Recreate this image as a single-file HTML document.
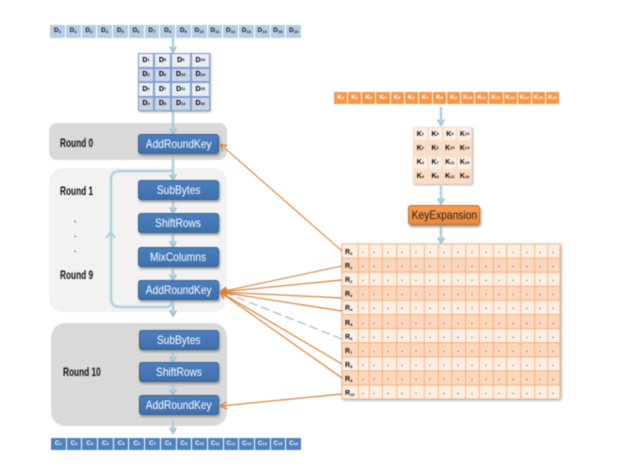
<!DOCTYPE html>
<html><head><meta charset="utf-8">
<style>
html,body{margin:0;padding:0;background:#fff}
body{width:624px;height:468px;position:relative;overflow:hidden;font-family:"Liberation Sans",sans-serif}
#w{position:absolute;left:0;top:0;width:624px;height:468px;filter:blur(.4px)}
svg{position:absolute;left:0;top:0}
.bar{position:absolute;display:flex;gap:1px;font-weight:bold;font-size:6.5px;line-height:1}
.bar span{flex:1;display:flex;align-items:center;justify-content:center}
sub{font-size:4px;line-height:0;font-weight:bold;vertical-align:-1.5px}
.d span{background:#b8cce4;color:#141c30}
.c span{background:#4f81bd;color:#fff}
.k span{background:#f79646;color:#fff}
.m{position:absolute;display:grid;font-weight:bold;font-size:7px;box-shadow:1px 1px 2px #aaa}
.m span{display:flex;align-items:center;justify-content:center;color:#000}
.bm{left:138px;top:53px;width:72px;height:58px;grid-template-columns:16px 17px 19.5px 19.5px;grid-template-rows:repeat(4,1fr);background:#7f9fd0}
.bm span{border:.5px solid #7f9fd0}
.bm span:nth-child(8n+1),.bm span:nth-child(8n+2),.bm span:nth-child(8n+3),.bm span:nth-child(8n+4){background:#e9edf4}
.bm span:nth-child(8n+5),.bm span:nth-child(8n+6),.bm span:nth-child(8n+7),.bm span:nth-child(8n+8){background:#ccd5e6}
.km{left:413px;top:127px;width:59px;height:57px;grid-template-columns:repeat(4,1fr);grid-template-rows:repeat(4,1fr)}
.km span{border:.5px solid #fbdcc4}
.km span:nth-child(8n+1),.km span:nth-child(8n+2),.km span:nth-child(8n+3),.km span:nth-child(8n+4){background:#fdf0e6}
.km span:nth-child(8n+5),.km span:nth-child(8n+6),.km span:nth-child(8n+7),.km span:nth-child(8n+8){background:#fbdcc4}
.b{position:absolute;box-sizing:border-box;height:19.5px;border-radius:3px;background:linear-gradient(#4a7fbf,#3f70ad);border:1px solid #38628f;color:#fff;font-size:12px;line-height:18px;text-align:center;box-shadow:1px 2px 2px #999;white-space:nowrap;display:flex;align-items:center;justify-content:center}
.b i{font-style:normal;display:block;transform:scaleX(.85)}
.o{background:linear-gradient(#f79a50,#ec8a3a);border-color:#c9702a;color:#222}
.l{position:absolute;font-size:11.5px;font-weight:bold;color:#111;line-height:1;white-space:nowrap;transform-origin:left center;transform:scaleX(.72)}
</style></head><body><div id="w">
<svg width="624" height="468" viewBox="0 0 624 468">
<defs>
<marker id="a" viewBox="0 0 10 10" refX="8" refY="5" markerWidth="8" markerHeight="8" orient="auto" markerUnits="userSpaceOnUse"><path d="M1 1L8 5L1 9" fill="none" stroke="#a3c6d4" stroke-width="2.500"/></marker>
</defs>
<rect x="49" y="123" width="178" height="37" rx="8" fill="#d9d9d9"/>
<rect x="49" y="168" width="178" height="144" rx="14" fill="#f2f2f2"/>
<rect x="51" y="323" width="176" height="103" rx="14" fill="#d9d9d9"/>
<path d="M172 171H120Q111 171 111 180V298Q111 307 120 307H166Q172 307 172 300" fill="none" stroke="#b2d3dc" stroke-width="2.600"/>
<path d="M106 238L110.500 232L115 238" fill="none" stroke="#a9cfdc" stroke-width="1.800"/>
<g fill="none" stroke="#aed0da" stroke-width="2.600" marker-end="url(#a)">
<path d="M173 38V52"/><path d="M173 111V134"/><path d="M173 153V180"/><path d="M173 199V213"/><path d="M173 233V247"/><path d="M173 266V280"/><path d="M173 299V316"/><path d="M173 349V362"/><path d="M173 382V395"/><path d="M173 420V433"/>
<path d="M441 107V125"/><path d="M441 186V204"/><path d="M441 225V243"/>
</g>
<rect x="342" y="244" width="218" height="155" fill="#fdeee2" style="filter:drop-shadow(1px 1px 1.500px #999)"/>
<g fill="#fbd7bc">
<rect x="342" y="258.100" width="218" height="14.100"/><rect x="342" y="286.300" width="218" height="14.100"/><rect x="342" y="314.500" width="218" height="14.100"/><rect x="342" y="342.700" width="218" height="14.100"/><rect x="342" y="370.900" width="218" height="14.100"/>
</g>
<path d="M342 244H560V399H342ZM342 258.100H560M342 272.200H560M342 286.300H560M342 300.400H560M342 314.500H560M342 328.600H560M342 342.700H560M342 356.800H560M342 370.900H560M342 385H560M358.300 244V399M369.300 244V399M382.300 244V399M396.700 244V399M410.300 244V399M424.300 244V399M438.300 244V399M451.700 244V399M465.700 244V399M479.300 244V399M493.300 244V399M506.700 244V399M520.700 244V399M534.700 244V399M547.700 244V399" fill="none" stroke="#f2a873" stroke-width=".8"/>
<g font-family="Liberation Sans" font-size="7" font-weight="bold" fill="#111">
<text x="345" y="254">R<tspan font-size="4" dy="1">0</tspan></text>
<text x="345" y="268">R<tspan font-size="4" dy="1">1</tspan></text>
<text x="345" y="282">R<tspan font-size="4" dy="1">2</tspan></text>
<text x="345" y="296">R<tspan font-size="4" dy="1">3</tspan></text>
<text x="345" y="310">R<tspan font-size="4" dy="1">4</tspan></text>
<text x="345" y="325">R<tspan font-size="4" dy="1">5</tspan></text>
<text x="345" y="339">R<tspan font-size="4" dy="1">6</tspan></text>
<text x="345" y="353">R<tspan font-size="4" dy="1">7</tspan></text>
<text x="345" y="367">R<tspan font-size="4" dy="1">8</tspan></text>
<text x="345" y="381">R<tspan font-size="4" dy="1">9</tspan></text>
<text x="345" y="395">R<tspan font-size="4" dy="1">10</tspan></text>
</g>
<g font-family="Liberation Sans" font-size="7" font-weight="bold" fill="#555">
<text y="253" x="362 373 387 401 415 429 443 457 471 485 498 512 526 539 552">...............</text>
<text y="267" x="362 373 387 401 415 429 443 457 471 485 498 512 526 539 552">...............</text>
<text y="281" x="362 373 387 401 415 429 443 457 471 485 498 512 526 539 552">...............</text>
<text y="295" x="362 373 387 401 415 429 443 457 471 485 498 512 526 539 552">...............</text>
<text y="309" x="362 373 387 401 415 429 443 457 471 485 498 512 526 539 552">...............</text>
<text y="324" x="362 373 387 401 415 429 443 457 471 485 498 512 526 539 552">...............</text>
<text y="338" x="362 373 387 401 415 429 443 457 471 485 498 512 526 539 552">...............</text>
<text y="352" x="362 373 387 401 415 429 443 457 471 485 498 512 526 539 552">...............</text>
<text y="366" x="362 373 387 401 415 429 443 457 471 485 498 512 526 539 552">...............</text>
<text y="380" x="362 373 387 401 415 429 443 457 471 485 498 512 526 539 552">...............</text>
<text y="394" x="362 373 387 401 415 429 443 457 471 485 498 512 526 539 552">...............</text>
</g>
<g font-family="Liberation Sans" font-size="8" font-weight="bold" fill="#333">
<text x="74" y="222">.</text><text x="74" y="237">.</text><text x="74" y="252">.</text>
</g>
<path d="M342 339L221 291" fill="none" stroke="#b0b4bc" stroke-width="1.200" stroke-dasharray="9 4"/>
</svg>
<div class="bar d" style="left:50px;top:25px;width:251px;height:13px"><span>D<sub>1</sub></span><span>D<sub>2</sub></span><span>D<sub>3</sub></span><span>D<sub>4</sub></span><span>D<sub>5</sub></span><span>D<sub>6</sub></span><span>D<sub>7</sub></span><span>D<sub>8</sub></span><span>D<sub>9</sub></span><span>D<sub>10</sub></span><span>D<sub>11</sub></span><span>D<sub>12</sub></span><span>D<sub>13</sub></span><span>D<sub>14</sub></span><span>D<sub>15</sub></span><span>D<sub>16</sub></span></div>
<div class="m bm"><span>D<sub>1</sub></span><span>D<sub>5</sub></span><span>D<sub>9</sub></span><span>D<sub>13</sub></span><span>D<sub>2</sub></span><span>D<sub>6</sub></span><span>D<sub>10</sub></span><span>D<sub>14</sub></span><span>D<sub>3</sub></span><span>D<sub>7</sub></span><span>D<sub>11</sub></span><span>D<sub>15</sub></span><span>D<sub>4</sub></span><span>D<sub>8</sub></span><span>D<sub>12</sub></span><span>D<sub>16</sub></span></div>
<div class="bar k" style="left:334px;top:92px;width:225px;height:12px"><span>K<sub>1</sub></span><span>K<sub>2</sub></span><span>K<sub>3</sub></span><span>K<sub>4</sub></span><span>K<sub>5</sub></span><span>K<sub>6</sub></span><span>K<sub>7</sub></span><span>K<sub>8</sub></span><span>K<sub>9</sub></span><span>K<sub>10</sub></span><span>K<sub>11</sub></span><span>K<sub>12</sub></span><span>K<sub>13</sub></span><span>K<sub>14</sub></span><span>K<sub>15</sub></span><span>K<sub>16</sub></span></div>
<div class="m km"><span>K<sub>1</sub></span><span>K<sub>5</sub></span><span>K<sub>9</sub></span><span>K<sub>13</sub></span><span>K<sub>2</sub></span><span>K<sub>6</sub></span><span>K<sub>10</sub></span><span>K<sub>14</sub></span><span>K<sub>3</sub></span><span>K<sub>7</sub></span><span>K<sub>11</sub></span><span>K<sub>15</sub></span><span>K<sub>4</sub></span><span>K<sub>8</sub></span><span>K<sub>12</sub></span><span>K<sub>16</sub></span></div>
<div class="b" style="left:138px;top:134px;width:81px"><i>AddRoundKey</i></div>
<div class="b" style="left:138px;top:180px;width:81px"><i>SubBytes</i></div>
<div class="b" style="left:138px;top:213px;width:81px"><i>ShiftRows</i></div>
<div class="b" style="left:138px;top:247px;width:81px"><i>MixColumns</i></div>
<div class="b" style="left:138px;top:280px;width:81px"><i>AddRoundKey</i></div>
<div class="b" style="left:139px;top:330px;width:80px"><i>SubBytes</i></div>
<div class="b" style="left:139px;top:362px;width:80px"><i>ShiftRows</i></div>
<div class="b" style="left:139px;top:395px;width:80px"><i>AddRoundKey</i></div>
<div class="b o" style="left:408px;top:205px;width:72px"><i>KeyExpansion</i></div>
<div class="l" style="left:60px;top:139px">Round 0</div>
<div class="l" style="left:60px;top:187px">Round 1</div>
<div class="l" style="left:60px;top:271px">Round 9</div>
<div class="l" style="left:63px;top:368px">Round 10</div>
<div class="bar c" style="left:51px;top:438px;width:250px;height:12px"><span>C<sub>1</sub></span><span>C<sub>2</sub></span><span>C<sub>3</sub></span><span>C<sub>4</sub></span><span>C<sub>5</sub></span><span>C<sub>6</sub></span><span>C<sub>7</sub></span><span>C<sub>8</sub></span><span>C<sub>9</sub></span><span>C<sub>10</sub></span><span>C<sub>11</sub></span><span>C<sub>12</sub></span><span>C<sub>13</sub></span><span>C<sub>14</sub></span><span>C<sub>15</sub></span><span>C<sub>16</sub></span></div>
<svg width="624" height="468" viewBox="0 0 624 468">
<defs>
<marker id="r" viewBox="0 0 10 10" refX="9.500" refY="5" markerWidth="8" markerHeight="8" orient="auto" markerUnits="userSpaceOnUse"><path d="M9.500 5L1 .5M9.500 5L1 9.500" stroke="#d9803a" stroke-width="1.600" fill="none"/></marker>
</defs>
<g fill="none" stroke="#d9803a" stroke-width="1.150" marker-end="url(#r)">
<path d="M342 251L220 144"/>
<path d="M342 266L220 292"/>
<path d="M342 280L220 292"/>
<path d="M342 298L220 292"/>
<path d="M342 311L220 292"/>
<path d="M342 364L220 292"/>
<path d="M342 378L220 292"/>
<path d="M342 394L220 406"/>
</g>
</svg>
</div></body></html>
